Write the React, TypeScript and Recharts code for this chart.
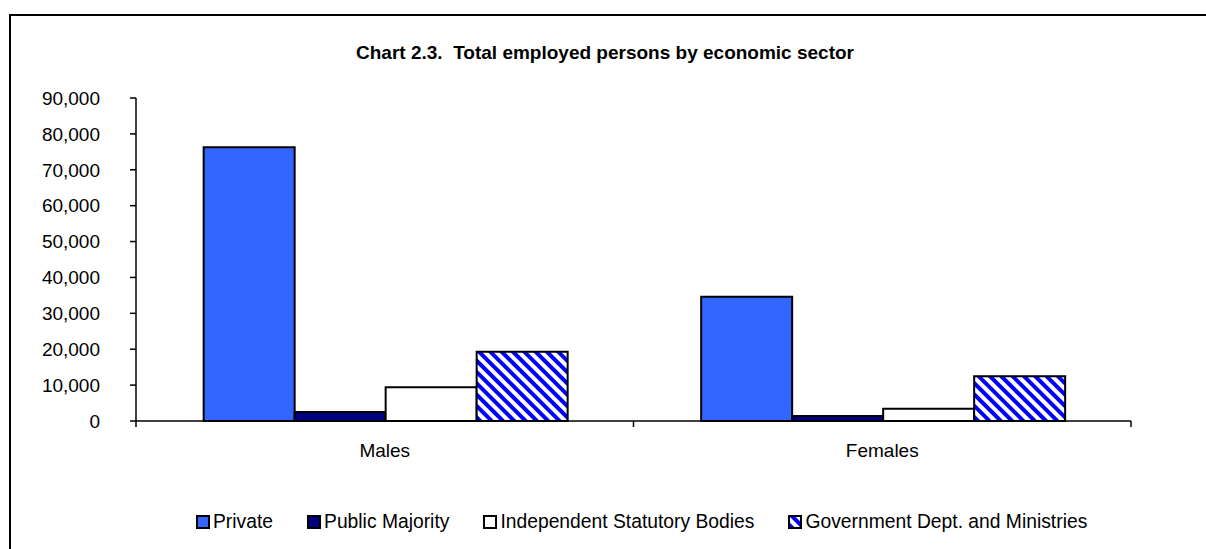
import React from "react";
import { BarChart, Bar, XAxis, YAxis, Legend } from "recharts";

const categories = ["Males", "Females"];
const privateValues = [76300, 34600];
const publicMajorityValues = [2500, 1400];
const independentValues = [9400, 3400];
const governmentValues = [19300, 12500];
const yTicks = [0, 10000, 20000, 30000, 40000, 50000, 60000, 70000, 80000, 90000];
const seriesOrder = ["Private", "Public Majority", "Independent Statutory Bodies", "Government Dept. and Ministries"];

const FONT = "'Liberation Sans', Arial, sans-serif";

const data = categories.map((c, i) => ({
  name: c,
  private: privateValues[i],
  publicMajority: publicMajorityValues[i],
  independent: independentValues[i],
  government: governmentValues[i],
}));

function CategoryTick(props: any) {
  const { x, y, payload, width, index, visibleTicksCount } = props;
  const count = visibleTicksCount || categories.length;
  const half = width / (2 * count);
  const axisY = y - 29;
  return (
    <g>
      <line x1={x - half} x2={x - half} y1={axisY} y2={axisY + 6} stroke="#000" strokeWidth={1.5} />
      {index === count - 1 && (
        <line x1={x + half} x2={x + half} y1={axisY} y2={axisY + 6} stroke="#000" strokeWidth={1.5} />
      )}
      <text x={x} y={y} dy="0.35em" textAnchor="middle" fill="#000" fontSize={19} fontFamily={FONT}>
        {payload.value}
      </text>
    </g>
  );
}

function LegendContent(props: any) {
  const items = [...(props.payload || [])].sort(
    (a: any, b: any) => seriesOrder.indexOf(a.value) - seriesOrder.indexOf(b.value)
  );
  return (
    <div
      style={{
        display: "flex",
        alignItems: "center",
        height: 24,
        paddingLeft: 196,
        fontFamily: FONT,
        fontSize: 19.3,
        color: "#000",
        whiteSpace: "nowrap",
      }}
    >
      {items.map((entry: any, i: number) => (
        <div key={i} style={{ display: "flex", alignItems: "center", marginRight: 34 }}>
          <svg width={14} height={14} style={{ marginRight: 3 }}>
            <rect x={1} y={1} width={12} height={12} fill={entry.color} stroke="#000" strokeWidth={2} />
          </svg>
          <span>{entry.value}</span>
        </div>
      ))}
    </div>
  );
}

export default function App() {
  return (
    <div
      style={{
        position: "fixed",
        left: 0,
        top: 0,
        width: 1206,
        height: 549,
        overflow: "hidden",
        background: "#fff",
      }}
    >
      <div
        style={{
          position: "absolute",
          left: 9,
          top: 14,
          width: 1300,
          height: 700,
          border: "2px solid #000",
        }}
      />
      <div
        style={{
          position: "absolute",
          left: 0,
          top: 43,
          width: 1210,
          textAlign: "center",
          fontFamily: FONT,
          fontWeight: "bold",
          fontSize: 19,
          lineHeight: "19px",
          whiteSpace: "pre",
          color: "#000",
        }}
      >
        {"Chart 2.3.  Total employed persons by economic sector"}
      </div>
      <div style={{ position: "absolute", left: 0, top: 0 }}>
        <BarChart
          width={1206}
          height={549}
          data={data}
          margin={{ top: 98, right: 75, bottom: 15, left: 0 }}
          barCategoryGap="13.6%"
          barGap={0}
          style={{ fontFamily: FONT }}
        >
          <defs>
            <pattern
              id="govHatch"
              patternUnits="userSpaceOnUse"
              width={8}
              height={8}
              patternTransform="rotate(-45)"
            >
              <rect x={0} y={0} width={8} height={8} fill="#ffffff" />
              <rect x={0} y={0} width={4} height={8} fill="#0000ff" />
            </pattern>
          </defs>
          <XAxis
            dataKey="name"
            height={89}
            axisLine={{ stroke: "#000", strokeWidth: 1.5 }}
            tickLine={false}
            tickSize={6}
            tickMargin={23}
            tick={<CategoryTick />}
            interval={0}
          />
          <YAxis
            width={136}
            domain={[0, 90000]}
            ticks={yTicks}
            interval={0}
            axisLine={{ stroke: "#000", strokeWidth: 1.5 }}
            tickLine={{ stroke: "#000", strokeWidth: 1.5 }}
            tickSize={6}
            tickMargin={30}
            tick={{ fill: "#000", fontSize: 19, fontFamily: FONT }}
            tickFormatter={(v) => Number(v).toLocaleString("en-US")}
          />
          <Legend verticalAlign="bottom" content={<LegendContent />} />
          <Bar dataKey="private" name="Private" fill="#3366ff" stroke="#000" strokeWidth={2} isAnimationActive={false} />
          <Bar dataKey="publicMajority" name="Public Majority" fill="#000080" stroke="#000" strokeWidth={2} isAnimationActive={false} />
          <Bar dataKey="independent" name="Independent Statutory Bodies" fill="#ffffff" stroke="#000" strokeWidth={2} isAnimationActive={false} />
          <Bar dataKey="government" name="Government Dept. and Ministries" fill="url(#govHatch)" stroke="#000" strokeWidth={2} isAnimationActive={false} />
        </BarChart>
      </div>
    </div>
  );
}
